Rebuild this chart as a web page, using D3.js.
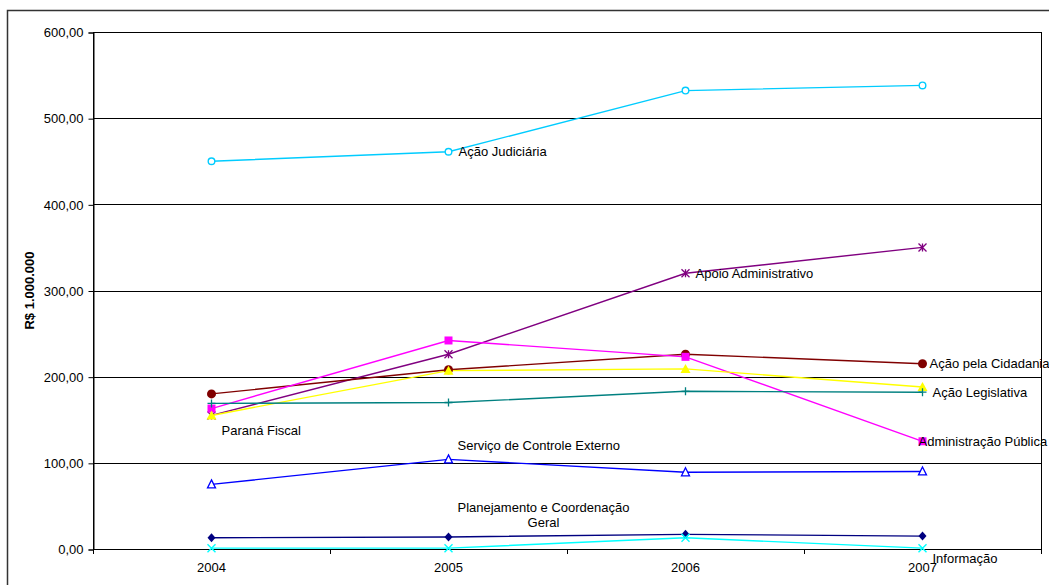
<!DOCTYPE html>
<html>
<head>
<meta charset="utf-8">
<script src="https://cdn.jsdelivr.net/npm/d3@7/dist/d3.min.js"></script>
<style>
html,body{margin:0;padding:0;background:#fff;}
svg{display:block;font-family:"Liberation Sans",Arial,sans-serif;}
</style>
</head>
<body>
<svg id="chart" width="1049" height="585"></svg>
<script>
const years = ["2004", "2005", "2006", "2007"];
const yTicks = [0, 100, 200, 300, 400, 500, 600];

const seriesNames = [
  "Ação Judiciária",
  "Apoio Administrativo",
  "Ação pela Cidadania",
  "Administração Pública",
  "Paraná Fiscal",
  "Ação Legislativa",
  "Serviço de Controle Externo",
  "Planejamento e Coordenação Geral",
  "Informação"
];
const acaoJudiciaria       = [450, 461, 532, 538];
const apoioAdministrativo  = [155, 226, 320, 350];
const acaoCidadania        = [180, 208, 226, 215];
const administracaoPublica = [163, 242, 223, 125];
const paranaFiscal         = [155, 207, 209, 188];
const acaoLegislativa      = [169, 170, 183, 182];
const controleExterno      = [75, 104, 89, 90];
const planejamento         = [13, 14, 17, 15];
const informacao           = [1, 1, 13, 1];

const seriesValues = [acaoJudiciaria, apoioAdministrativo, acaoCidadania, administracaoPublica,
  paranaFiscal, acaoLegislativa, controleExterno, planejamento, informacao];

// styles (colour, marker)
const styles = [
  {color:"#00CCFF", marker:"circleOpen"},
  {color:"#800080", marker:"asterisk"},
  {color:"#800000", marker:"circle"},
  {color:"#FF00FF", marker:"square"},
  {color:"#FFFF00", marker:"triangle"},
  {color:"#008080", marker:"plus"},
  {color:"#0000FF", marker:"triangleOpen"},
  {color:"#000080", marker:"diamond"},
  {color:"#00FFFF", marker:"cross"}
];

// label placement: series index, point index, offsets, anchor, lines
const labelPlacement = [
  {s:0, p:1, dx:10, dy:0, anchor:"start", lines:["Ação Judiciária"]},
  {s:1, p:2, dx:10, dy:0, anchor:"start", lines:["Apoio Administrativo"]},
  {s:2, p:3, dx:7, dy:0, anchor:"start", lines:["Ação pela Cidadania"]},
  {s:3, p:3, dx:-4, dy:0, anchor:"start", lines:["Administração Pública"]},
  {s:4, p:0, dx:10, dy:15, anchor:"start", lines:["Paraná Fiscal"]},
  {s:5, p:3, dx:10, dy:0, anchor:"start", lines:["Ação Legislativa"]},
  {s:6, p:1, dx:9, dy:-14, anchor:"start", lines:["Serviço de Controle Externo"]},
  {s:7, p:1, dx:95, dy:-29, anchor:"middle", lines:["Planejamento e Coordenação", "Geral"]},
  {s:8, p:3, dx:10, dy:10, anchor:"start", lines:["Informação"]}
];

const svg = d3.select("#chart");
const margin = {left: 93, top: 32, right: 1041, bottom: 549};

// outer frame
svg.append("rect").attr("x", 7.5).attr("y", 10.5).attr("width", 1100).attr("height", 700)
  .attr("fill", "#fff").attr("stroke", "#333").attr("stroke-width", 1.5);

const x = d3.scaleBand().domain(years).range([margin.left, margin.right]);
const y = d3.scaleLinear().domain([0, 600]).range([margin.bottom, margin.top]);

// plot area
svg.append("rect").attr("x", margin.left + 0.5).attr("y", margin.top + 0.5)
  .attr("width", margin.right - margin.left).attr("height", margin.bottom - margin.top)
  .attr("fill", "#fff").attr("stroke", "#000").attr("stroke-width", 1);

// gridlines
svg.append("g").selectAll("line").data(yTicks.filter(t => t > 0 && t < 600)).join("line")
  .attr("x1", margin.left).attr("x2", margin.right)
  .attr("y1", d => Math.round(y(d)) + 0.5).attr("y2", d => Math.round(y(d)) + 0.5)
  .attr("stroke", "#000").attr("stroke-width", 1);

// y axis
const yAxis = d3.axisLeft(y).tickValues(yTicks).tickSize(5).tickPadding(5)
  .tickFormat(d => d3.format(".2f")(d).replace(".", ","));
const gy = svg.append("g").attr("transform", `translate(${margin.left + 0.5},0.5)`).call(yAxis);
gy.select(".domain").attr("stroke", "#000");
gy.selectAll(".tick line").attr("stroke", "#000");
gy.selectAll("text").attr("font-size", 13).attr("fill", "#000")
  .attr("font-family", "'Liberation Sans', Arial, sans-serif");

// x axis with ticks between categories
const xAxis = d3.axisBottom(x).tickSize(0).tickPadding(13);
const gx = svg.append("g").attr("transform", `translate(0,${margin.bottom + 0.5})`).call(xAxis);
gx.select(".domain").remove();
gx.selectAll("text").attr("font-size", 13).attr("fill", "#000")
  .attr("font-family", "'Liberation Sans', Arial, sans-serif");
svg.append("line").attr("x1", margin.left).attr("x2", margin.right + 1)
  .attr("y1", margin.bottom + 0.5).attr("y2", margin.bottom + 0.5).attr("stroke", "#000");
const bounds = years.map(yr => x(yr)).concat([margin.right]);
svg.append("g").selectAll("line").data(bounds).join("line")
  .attr("x1", d => Math.round(d) + 0.5).attr("x2", d => Math.round(d) + 0.5)
  .attr("y1", margin.bottom).attr("y2", margin.bottom + 5)
  .attr("stroke", "#000");

// y title
svg.append("text").attr("transform", `translate(34,${(margin.top + margin.bottom) / 2}) rotate(-90)`)
  .attr("text-anchor", "middle").attr("font-size", 13).attr("font-weight", "bold")
  .text("R$ 1.000.000");

const cx = yr => x(yr) + x.bandwidth() / 2;
const line = d3.line().x((d, i) => cx(years[i])).y(d => y(d));

// lines
seriesValues.forEach((vals, si) => {
  svg.append("path").datum(vals).attr("d", line)
    .attr("fill", "none").attr("stroke", styles[si].color).attr("stroke-width", 1.4);
});

// markers
function drawMarker(g, type, color, px, py) {
  const s = 4;
  switch (type) {
    case "circleOpen":
      g.append("circle").attr("cx", px).attr("cy", py).attr("r", 3.3)
        .attr("fill", "#fff").attr("stroke", color).attr("stroke-width", 1.4); break;
    case "circle":
      g.append("circle").attr("cx", px).attr("cy", py).attr("r", 4.5).attr("fill", color); break;
    case "square":
      g.append("rect").attr("x", px - 4).attr("y", py - 4).attr("width", 8).attr("height", 8).attr("fill", color); break;
    case "triangle":
      g.append("path").attr("d", `M${px},${py - 5}L${px + 5},${py + 4}L${px - 5},${py + 4}Z`).attr("fill", color); break;
    case "triangleOpen":
      g.append("path").attr("d", `M${px},${py - 4.5}L${px + 4},${py + 3.5}L${px - 4},${py + 3.5}Z`)
        .attr("fill", "#fff").attr("stroke", color).attr("stroke-width", 1.3); break;
    case "diamond":
      g.append("path").attr("d", `M${px},${py - 4.5}L${px + 4},${py}L${px},${py + 4.5}L${px - 4},${py}Z`).attr("fill", color); break;
    case "plus":
      g.append("path").attr("d", `M${px - s},${py}L${px + s},${py}M${px},${py - s}L${px},${py + s}`)
        .attr("stroke", color).attr("stroke-width", 1.3); break;
    case "cross":
      g.append("path").attr("d", `M${px - s},${py - s}L${px + s},${py + s}M${px - s},${py + s}L${px + s},${py - s}`)
        .attr("stroke", color).attr("stroke-width", 1.4); break;
    case "asterisk":
      g.append("path").attr("d", `M${px - s},${py - s}L${px + s},${py + s}M${px - s},${py + s}L${px + s},${py - s}M${px},${py - s}L${px},${py + s}`)
        .attr("stroke", color).attr("stroke-width", 1.3); break;
  }
}
seriesValues.forEach((vals, si) => {
  const g = svg.append("g");
  vals.forEach((v, i) => drawMarker(g, styles[si].marker, styles[si].color, cx(years[i]), y(v)));
});

// labels
labelPlacement.forEach(lp => {
  const px = cx(years[lp.p]) + lp.dx;
  const py = y(seriesValues[lp.s][lp.p]) + lp.dy;
  const t = svg.append("text").attr("font-size", 13).attr("fill", "#000")
    .attr("text-anchor", lp.anchor);
  lp.lines.forEach((ln, k) => {
    t.append("tspan").attr("x", px).attr("y", py + k * 15).attr("dy", "0.35em").text(ln);
  });
});
</script>
</body>
</html>
